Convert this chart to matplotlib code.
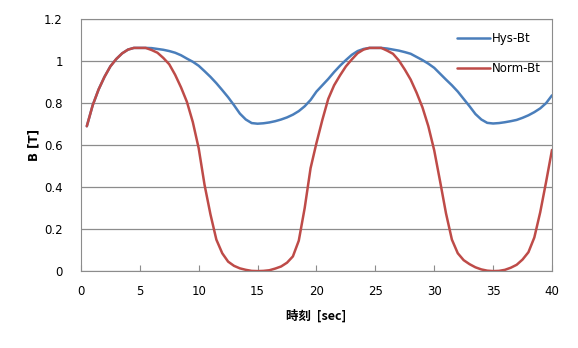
import numpy as np
import matplotlib.pyplot as plt

# time [sec], sampled every 0.5 s
t = np.arange(0.5, 40.01, 0.5)

hys_bt = [0.69, 0.79, 0.865, 0.925, 0.975, 1.01, 1.037, 1.055, 1.063, 1.063,
          1.063, 1.062, 1.058, 1.054, 1.048, 1.04, 1.028, 1.012, 0.997, 0.978,
          0.952, 0.925, 0.895, 0.862, 0.828, 0.79, 0.75, 0.722, 0.705, 0.702,
          0.704, 0.708, 0.714, 0.722, 0.732, 0.745, 0.762, 0.785, 0.815, 0.855,
          0.885, 0.915, 0.948, 0.978, 1.005, 1.03, 1.048, 1.058, 1.063, 1.063,
          1.063, 1.06, 1.055, 1.05, 1.043, 1.035, 1.02, 1.005, 0.988, 0.968,
          0.94, 0.912, 0.885, 0.855, 0.82, 0.785, 0.748, 0.722, 0.706, 0.703,
          0.705, 0.709, 0.714, 0.72, 0.73, 0.742, 0.757, 0.775, 0.8, 0.837]

norm_bt = [0.69, 0.79, 0.865, 0.925, 0.975, 1.01, 1.037, 1.055, 1.063, 1.063,
           1.063, 1.053, 1.04, 1.015, 0.985, 0.935, 0.875, 0.806, 0.71, 0.585,
           0.41, 0.27, 0.15, 0.085, 0.045, 0.025, 0.013, 0.006, 0.001, 0.0,
           0.001, 0.004, 0.012, 0.022, 0.04, 0.07, 0.145, 0.30, 0.49, 0.61,
           0.72, 0.82, 0.885, 0.932, 0.975, 1.008, 1.038, 1.055, 1.063, 1.063,
           1.063, 1.05, 1.035, 1.003, 0.96, 0.912, 0.85, 0.78, 0.69, 0.575,
           0.427, 0.275, 0.15, 0.085, 0.052, 0.033, 0.018, 0.008, 0.002, 0.0,
           0.001, 0.006, 0.016, 0.03, 0.055, 0.09, 0.16, 0.28, 0.425, 0.577]

fig = plt.figure(figsize=(5.78, 3.48), dpi=100)
ax = fig.add_axes([0.140, 0.221, 0.815, 0.724])

ax.plot(t, hys_bt, color='#4a7ebb', lw=1.8, label='Hys-Bt',
        solid_joinstyle='round', solid_capstyle='round')
ax.plot(t, norm_bt, color='#be4b48', lw=1.8, label='Norm-Bt',
        solid_joinstyle='round', solid_capstyle='round')

ax.set_xlim(0, 40)
ax.set_ylim(0, 1.2)
ax.set_xticks(np.arange(0, 41, 5))
ax.set_yticks(np.arange(0, 1.21, 0.2))
ax.set_yticklabels(['0', '0.2', '0.4', '0.6', '0.8', '1', '1.2'])
ax.grid(axis='y', color='#8c8c8c', lw=0.9)
ax.set_axisbelow(True)
for s in ax.spines.values():
    s.set_color('#8c8c8c')
ax.tick_params(axis='x', direction='in', length=4, color='#8c8c8c', labelsize=8.5, pad=10)
ax.tick_params(axis='y', length=0, labelsize=8.5, pad=13)

ax.set_ylabel('B [T]', fontsize=8.5, fontweight='bold', labelpad=3)
ax.set_xlabel('時刻  [sec]', fontsize=9, fontweight='bold', labelpad=8,
              family=['Noto Sans CJK JP', 'DejaVu Sans'])

ax.legend(loc='upper right', bbox_to_anchor=(1.0, 0.99), frameon=False, fontsize=8.5,
          handlelength=2.8, labelspacing=1.45, handletextpad=0.2)

fig.savefig('out.png', dpi=100)
